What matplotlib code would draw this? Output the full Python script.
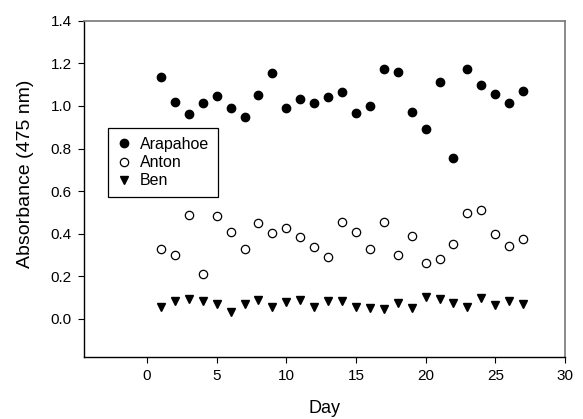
import matplotlib
matplotlib.use("Agg")
import matplotlib.pyplot as plt

plt.rcParams['font.family'] = ['Liberation Sans', 'DejaVu Sans']

days = list(range(1, 28))

# absorbance readings at 475 nm for each site
arapahoe = [1.134, 1.019, 0.962, 1.012, 1.046, 0.991, 0.947, 1.049, 1.156, 0.988,
            1.031, 1.015, 1.044, 1.066, 0.966, 1.000, 1.172, 1.157, 0.972, 0.894,
            1.110, 0.757, 1.172, 1.100, 1.056, 1.012, 1.069]
anton = [0.330, 0.299, 0.487, 0.211, 0.484, 0.410, 0.329, 0.452, 0.405, 0.429,
         0.387, 0.338, 0.291, 0.454, 0.408, 0.330, 0.457, 0.299, 0.390, 0.261,
         0.280, 0.351, 0.498, 0.510, 0.397, 0.344, 0.377]
ben = [0.055, 0.086, 0.094, 0.083, 0.070, 0.033, 0.069, 0.089, 0.058, 0.080,
       0.088, 0.054, 0.083, 0.086, 0.058, 0.052, 0.045, 0.073, 0.052, 0.105,
       0.095, 0.073, 0.055, 0.100, 0.064, 0.083, 0.068]

fig = plt.figure(figsize=(5.83, 4.19), dpi=100)
ax = fig.add_axes([0.1446, 0.1487, 0.8244, 0.8019])

ax.plot(days, arapahoe, 'o', color='black', ms=6, label='Arapahoe')
ax.plot(days, anton, 'o', mfc='white', mec='black', mew=0.9, ms=6, label='Anton')
ax.plot(days, ben, 'v', color='black', ms=6, label='Ben')

ax.set_xlim(-4.5, 30)
ax.set_ylim(-0.177, 1.4)
ax.set_xticks(range(0, 31, 5))
ax.set_yticks([0.0, 0.2, 0.4, 0.6, 0.8, 1.0, 1.2, 1.4])
ax.yaxis.set_major_formatter(matplotlib.ticker.FormatStrFormatter('%.1f'))
ax.tick_params(direction='out', length=4, width=0.8, labelsize=11, pad=5)

for side in ['top', 'right']:
    ax.spines[side].set_color('#777777')
    ax.spines[side].set_linewidth(1.2)
for side in ['left', 'bottom']:
    ax.spines[side].set_linewidth(1.0)

ax.set_xlabel('Day', fontsize=13)
ax.set_ylabel('Absorbance (475 nm)', fontsize=14)
ax.xaxis.set_label_coords(0.5, -0.13)
ax.yaxis.set_label_coords(-0.105, 0.545)

leg = ax.legend(loc='upper left', bbox_to_anchor=(0.05, 0.68), borderaxespad=0,
                fancybox=False, edgecolor='black', fontsize=11.5, handlelength=0.8,
                handletextpad=0.6, labelspacing=0.2, borderpad=0.55, framealpha=1)
leg.get_frame().set_linewidth(0.9)

plt.savefig('out.png', dpi=100)
